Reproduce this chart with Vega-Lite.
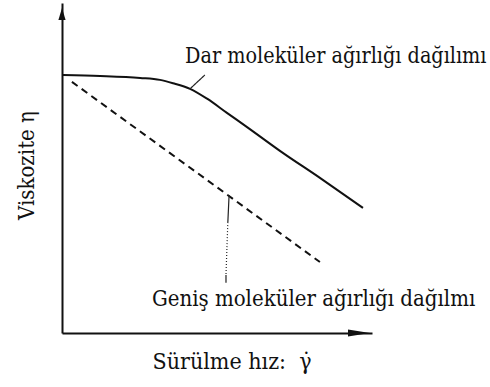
{
  "$schema": "https://vega.github.io/schema/vega-lite/v6.json",
  "width": 310,
  "height": 330,
  "autosize": {"type": "none"},
  "padding": {"left": 62, "top": 3, "right": 118, "bottom": 54},
  "background": "white",
  "config": {"view": {"stroke": null}},
  "datasets": {
    "narrow": [
      {"x": 0.03, "y": 7.82},
      {"x": 1.23, "y": 7.79},
      {"x": 2.52, "y": 7.73},
      {"x": 3.16, "y": 7.67},
      {"x": 3.58, "y": 7.57},
      {"x": 4.13, "y": 7.40},
      {"x": 4.68, "y": 7.10},
      {"x": 5.32, "y": 6.67},
      {"x": 5.97, "y": 6.24},
      {"x": 7.03, "y": 5.52},
      {"x": 8.32, "y": 4.70},
      {"x": 9.71, "y": 3.79}
    ],
    "broad": [
      {"x": 0.32, "y": 7.61},
      {"x": 8.32, "y": 2.15}
    ],
    "leaders": [
      {"x": 4.13, "y": 7.40, "x2": 4.61, "y2": 7.82, "style": "solid"},
      {"x": 5.39, "y": 4.18, "x2": 5.35, "y2": 3.36, "style": "solid"},
      {"x": 5.35, "y": 3.36, "x2": 5.29, "y2": 1.76, "style": "dotted"},
      {"x": 5.29, "y": 1.76, "x2": 5.29, "y2": 1.52, "style": "solid"}
    ],
    "labels": [
      {"x": 3.97, "y": 8.18, "label": "Dar moleküler ağırlığı dağılımı"}
    ],
    "labels2": [
      {"x": 2.9, "y": 0.82, "label": "Geniş moleküler ağırlığı dağılmı"}
    ],
    "yarrow": [{"x": 0, "y": 9.67}],
    "xarrow": [{"x": 9.58, "y": 0}]
  },
  "encoding": {
    "x": {
      "field": "x",
      "type": "quantitative",
      "scale": {"domain": [0, 10], "nice": false, "zero": false},
      "axis": {
        "title": "Sürülme hız:\u00a0\u00a0γ̇",
        "ticks": false,
        "labels": false,
        "grid": false,
        "domainColor": "#111",
        "domainWidth": 2,
        "titleFont": "DejaVu Serif Condensed",
        "titleFontSize": 23,
        "titleFontWeight": "normal",
        "titleColor": "#111",
        "titleX": 90,
        "titleY": 35,
        "titleAlign": "left",
        "titleBaseline": "alphabetic"
      }
    },
    "y": {
      "field": "y",
      "type": "quantitative",
      "scale": {"domain": [0, 10], "nice": false, "zero": false},
      "axis": {
        "title": "Viskozite η",
        "ticks": false,
        "labels": false,
        "grid": false,
        "domainColor": "#111",
        "domainWidth": 2,
        "titleFont": "DejaVu Serif Condensed",
        "titleFontSize": 22,
        "titleFontWeight": "normal",
        "titleColor": "#111",
        "titleX": -29,
        "titleY": 162,
        "titleAngle": -90,
        "titleAlign": "center",
        "titleBaseline": "alphabetic"
      }
    }
  },
  "layer": [
    {
      "data": {"name": "narrow"},
      "mark": {"type": "line", "interpolate": "monotone", "color": "#111", "strokeWidth": 2}
    },
    {
      "data": {"name": "broad"},
      "mark": {"type": "line", "color": "#111", "strokeWidth": 2, "strokeDash": [7, 5]}
    },
    {
      "data": {"name": "leaders"},
      "mark": {"type": "rule", "color": "#222", "strokeWidth": 1.2},
      "encoding": {
        "x2": {"field": "x2"},
        "y2": {"field": "y2"},
        "strokeDash": {
          "field": "style",
          "type": "nominal",
          "scale": {"domain": ["solid", "dotted"], "range": [[1, 0], [1, 2]]},
          "legend": null
        }
      }
    },
    {
      "data": {"name": "labels"},
      "mark": {"type": "text", "align": "left", "baseline": "alphabetic", "font": "DejaVu Serif Condensed", "fontSize": 21.4, "color": "#111"},
      "encoding": {"text": {"field": "label"}}
    },
    {
      "data": {"name": "labels2"},
      "mark": {"type": "text", "align": "left", "baseline": "alphabetic", "font": "DejaVu Serif Condensed", "fontSize": 22, "color": "#111"},
      "encoding": {"text": {"field": "label"}}
    },
    {
      "data": {"name": "yarrow"},
      "mark": {"type": "point", "shape": "M0,-1L0.6,1L-0.6,1Z", "size": 144, "filled": true, "color": "#111", "opacity": 1}
    },
    {
      "data": {"name": "xarrow"},
      "mark": {"type": "point", "shape": "M1,0L-1,-0.32L-1,0.32Z", "size": 484, "filled": true, "color": "#111", "opacity": 1}
    }
  ]
}
